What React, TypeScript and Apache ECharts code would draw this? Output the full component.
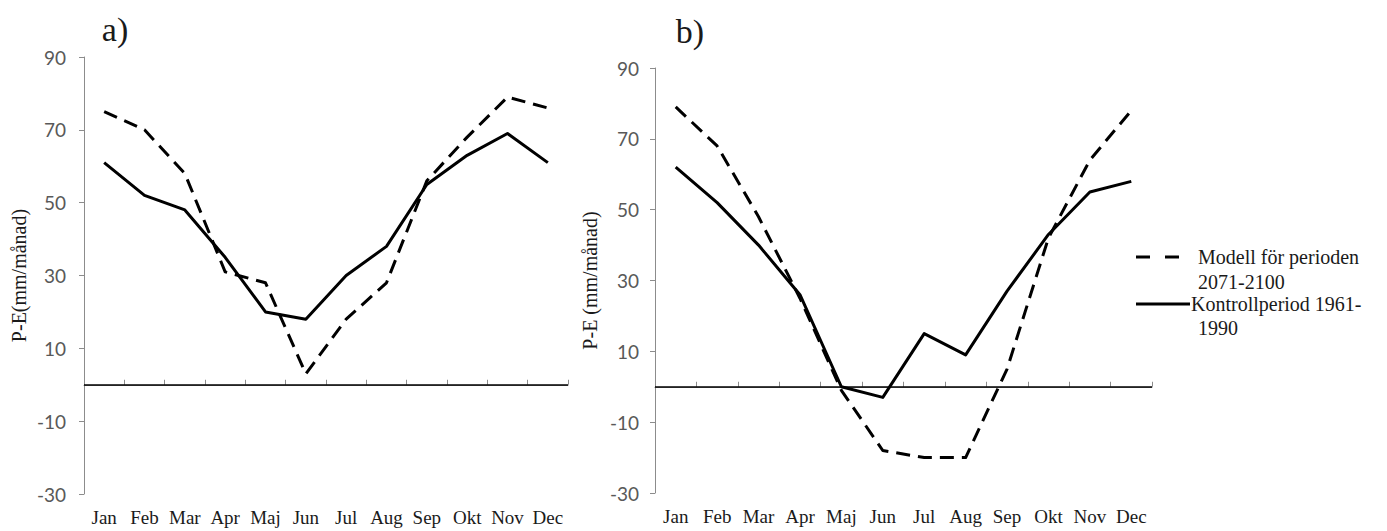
import React, { useEffect, useRef } from "react";
import * as echarts from "echarts";

const months = ["Jan", "Feb", "Mar", "Apr", "Maj", "Jun", "Jul", "Aug", "Sep", "Okt", "Nov", "Dec"];
const yTicks = [-30, -10, 10, 30, 50, 70, 90];
const seriesNames = ["Modell för perioden 2071-2100", "Kontrollperiod 1961-1990"];
const aModell = [75, 70, 58, 31, 28, 3, 18, 28, 56, 68, 79, 76];
const aKontroll = [61, 52, 48, 35, 20, 18, 30, 38, 55, 63, 69, 61];
const bModell = [79, 68, 48, 25, -1, -18, -20, -20, 5, 42, 64, 78];
const bKontroll = [62, 52, 40, 26, 0, -3, 15, 9, 27, 43, 55, 58];
const panelTitles = ["a)", "b)"];
const axisNames = ["P-E(mm/månad)", "P-E (mm/månad)"];
const legendLines = [["Modell för perioden", "2071-2100"], ["Kontrollperiod 1961-", "1990"]];

const SERIF = "Liberation Serif";
const SANS = "Lato";
const AXIS_GRAY = "#8c8c8c";

export default function App() {
  const ref = useRef<HTMLDivElement>(null);
  useEffect(() => {
    if (!ref.current) return;
    const chart = echarts.init(ref.current, null, { renderer: "svg" });

    const mkX = (gridIndex: number) => ({
      type: "category",
      gridIndex,
      data: months,
      boundaryGap: true,
      axisLine: { lineStyle: { color: AXIS_GRAY, width: 1 } },
      axisTick: { show: true, inside: true, length: 5, alignWithLabel: false, lineStyle: { color: AXIS_GRAY } },
      axisLabel: { fontFamily: SERIF, fontSize: 19, color: "#1a1a1a", margin: 14, interval: 0 },
      splitLine: { show: false },
    });
    const mkY = (gridIndex: number, name: string, nameGap: number, labelMargin: number) => ({
      type: "value",
      gridIndex,
      min: -30,
      max: 90,
      name,
      nameLocation: "middle",
      nameGap,
      nameTextStyle: { fontFamily: SERIF, fontSize: 20, color: "#1a1a1a" },
      axisLine: { show: true, lineStyle: { color: AXIS_GRAY, width: 1 } },
      axisTick: { show: true, inside: false, length: 5, customValues: yTicks, lineStyle: { color: AXIS_GRAY } },
      axisLabel: { fontFamily: SANS, fontSize: 19, color: "#595959", margin: labelMargin, customValues: yTicks },
      splitLine: { show: false },
    });

    const dashed = { color: "#000", width: 3, type: [14, 8], join: "round" };
    const solid = { color: "#000", width: 3, type: "solid", join: "round" };
    const zeroLine = {
      silent: true,
      symbol: ["none", "none"],
      label: { show: false },
      lineStyle: { color: "#000", width: 1.5, type: "solid" },
      data: [{ yAxis: 0 }],
    };

    const mkSeries = (name: string, data: number[], idx: number, style: any, withZero: boolean) => ({
      name,
      type: "line",
      xAxisIndex: idx,
      yAxisIndex: idx,
      data,
      symbol: "none",
      showSymbol: false,
      lineStyle: style,
      itemStyle: { color: "#000" },
      ...(withZero ? { markLine: zeroLine } : {}),
    });

    const textTitle = (text: string, x: number, y: number, size: number, align: string) => ({
      text,
      left: x,
      top: y,
      textAlign: align,
      textVerticalAlign: "middle",
      padding: 0,
      textStyle: { fontFamily: SERIF, fontSize: size, fontWeight: "normal", color: "#1a1a1a" },
    });

    const legendX0 = 1136;
    const legendTextX = 1198;
    chart.setOption({
      animation: false,
      backgroundColor: "#ffffff",
      title: [
        textTitle(panelTitles[0], 115, 29, 34, "center"),
        textTitle(panelTitles[1], 690, 31, 34, "center"),
        textTitle(legendLines[0][0], legendTextX, 257, 20, "left"),
        textTitle(legendLines[0][1], legendTextX, 282, 20, "left"),
        textTitle(legendLines[1][0], 1191, 304, 20, "left"),
        textTitle(legendLines[1][1], legendTextX, 328, 20, "left"),
      ],
      grid: [
        { left: 84, top: 57, width: 484, height: 437 },
        { left: 655, top: 68, width: 497, height: 425 },
      ],
      xAxis: [mkX(0), mkX(1)],
      yAxis: [mkY(0, axisNames[0], 55, 18), mkY(1, axisNames[1], 55, 16)],
      series: [
        mkSeries(seriesNames[0], aModell, 0, dashed, false),
        mkSeries(seriesNames[1], aKontroll, 0, solid, true),
        mkSeries(seriesNames[0], bModell, 1, dashed, false),
        mkSeries(seriesNames[1], bKontroll, 1, solid, true),
      ],
      graphic: [
        { type: "line", shape: { x1: legendX0, y1: 257, x2: 1180, y2: 257 },
          style: { stroke: "#000", lineWidth: 3, lineDash: [14, 15] } },
        { type: "line", shape: { x1: legendX0, y1: 304, x2: 1190, y2: 304 },
          style: { stroke: "#000", lineWidth: 3 } },
      ],
    });
    return () => chart.dispose();
  }, []);
  return (
    <div
      ref={ref}
      style={{ position: "fixed", left: 0, top: 0, width: 1387, height: 531, background: "#fff" }}
    />
  );
}
